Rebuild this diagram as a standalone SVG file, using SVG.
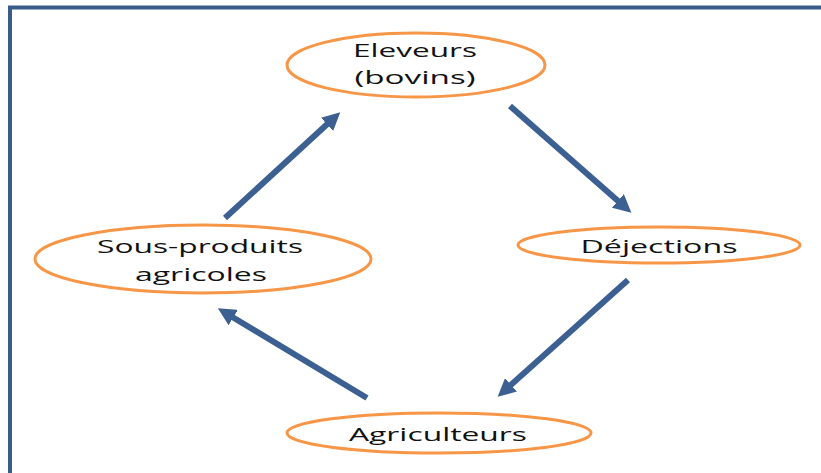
<svg xmlns="http://www.w3.org/2000/svg" width="821" height="473" viewBox="0 0 821 473">
  <style>
    .node ellipse { fill: #ffffff; stroke: #F79646; stroke-width: 3; }
    .node text { font-family: "Open Sans", "Liberation Sans", sans-serif; font-size: 19px; fill: #111111; text-anchor: middle; }
    .edge { stroke: #3B6091; stroke-width: 6; fill: none; marker-end: url(#head); }
  </style>
  <defs>
    <marker id="head" viewBox="0 0 10 10" refX="6" refY="5" markerWidth="3" markerHeight="3" orient="auto" markerUnits="strokeWidth">
      <path d="M0,0 L10,5 L0,10 Z" fill="#3B6091"/>
    </marker>
  </defs>
  <rect width="821" height="473" fill="#ffffff"/>
  <!-- frame -->
  <path d="M10,473 V7.5 H821" fill="none" stroke="#385D8A" stroke-width="4"/>

  <g id="connectors">
    <line class="edge" x1="510" y1="106" x2="626" y2="208"/>
    <line class="edge" x1="628" y1="280" x2="503" y2="392"/>
    <line class="edge" x1="367" y1="398" x2="224" y2="312"/>
    <line class="edge" x1="225" y1="218" x2="335" y2="117"/>
  </g>

  <g id="eleveurs" class="node">
    <ellipse cx="416" cy="65" rx="129" ry="32"/>
    <text x="415" y="57" textLength="124" lengthAdjust="spacingAndGlyphs">Eleveurs</text>
    <text x="415" y="84" textLength="121" lengthAdjust="spacingAndGlyphs">(bovins)</text>
  </g>
  <g id="dejections" class="node">
    <ellipse cx="659" cy="245" rx="141" ry="18"/>
    <text x="659" y="253" textLength="157" lengthAdjust="spacingAndGlyphs">Déjections</text>
  </g>
  <g id="sous-produits" class="node">
    <ellipse cx="203" cy="259" rx="168" ry="34"/>
    <text x="200" y="253" textLength="206" lengthAdjust="spacingAndGlyphs">Sous-produits</text>
    <text x="201" y="281" textLength="132" lengthAdjust="spacingAndGlyphs">agricoles</text>
  </g>
  <g id="agriculteurs" class="node">
    <ellipse cx="439" cy="433" rx="152" ry="20"/>
    <text x="438" y="441" textLength="178" lengthAdjust="spacingAndGlyphs">Agriculteurs</text>
  </g>
</svg>
